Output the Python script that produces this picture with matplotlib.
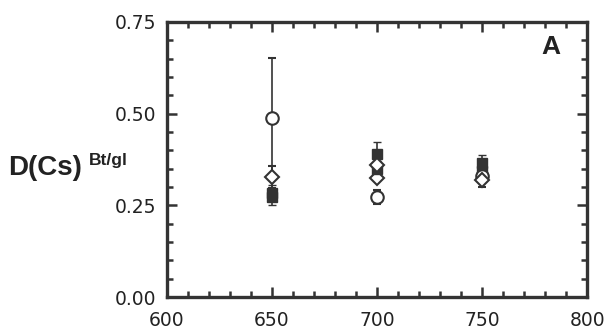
import numpy as np
import matplotlib.pyplot as plt
from matplotlib.ticker import MultipleLocator

plt.rcParams['font.family'] = ['DejaVu Sans']

# temperature positions
temps = [650, 700, 750]

# open circles
circ_y = [0.488, 0.273, 0.33]
circ_err = [0.165, 0.02, 0.015]

# filled squares (two runs)
sq1_y = [0.285, 0.39, 0.365]
sq1_err = [0.02, 0.032, 0.022]
sq2_y = [0.272, 0.35, 0.345]
sq2_err = [0.02, 0.02, 0.015]

# open diamonds
dia1_y = [0.327, 0.36, 0.32]
dia1_err = [0.03, 0.02, 0.02]
dia2_x = [700]
dia2_y = [0.325]

ink = '#333333'

fig = plt.figure(figsize=(6.09, 3.33), dpi=100)
ax = fig.add_axes([0.274, 0.108, 0.690, 0.826])

for y, e in [(sq1_y, sq1_err), (sq2_y, sq2_err)]:
    ax.errorbar(temps, y, yerr=e, fmt='s', color=ink, ms=7,
                ecolor=ink, elinewidth=1.2, capsize=3)
ax.errorbar(temps, circ_y, yerr=circ_err, fmt='o', mfc='white', mec=ink,
            mew=1.5, ms=9, ecolor=ink, elinewidth=1.2, capsize=3)
ax.errorbar(temps, dia1_y, yerr=dia1_err, fmt='D', mfc='white', mec=ink,
            mew=1.5, ms=7, ecolor=ink, elinewidth=1.2, capsize=3)
ax.plot(dia2_x, dia2_y, 'D', mfc='white', mec=ink, mew=1.5, ms=7)

ax.set_xlim(600, 800)
ax.set_ylim(0, 0.75)
ax.set_xticks([600, 650, 700, 750, 800])
ax.set_yticks([0, 0.25, 0.5, 0.75])
ax.set_yticklabels(['0.00', '0.25', '0.50', '0.75'])
ax.xaxis.set_minor_locator(MultipleLocator(10))
ax.yaxis.set_minor_locator(MultipleLocator(0.05))
ax.tick_params(which='both', direction='in', top=True, right=True,
               labelsize=13.5, color=ink, labelcolor='#222222', width=1.8)
ax.tick_params(which='major', length=7)
ax.tick_params(which='minor', length=4)
ax.tick_params(axis='x', pad=10)
ax.tick_params(axis='y', pad=8)
for s in ax.spines.values():
    s.set_linewidth(2.4)
    s.set_color(ink)

fig.text(551 / 609, 1 - 47 / 333, 'A', ha='center', va='center',
         fontsize=19, fontweight='bold', family='Liberation Sans', color='#222222')
fig.text(8 / 609, 1 - 168 / 333, 'D(Cs)', ha='left', va='center',
         fontsize=20, fontweight='bold', family='Liberation Sans', color='#222222')
fig.text(89 / 609, 1 - 161 / 333, 'Bt/gl', ha='left', va='center',
         fontsize=12.5, fontweight='bold', family='Liberation Sans', color='#222222')

fig.savefig('out.png', dpi=100)
